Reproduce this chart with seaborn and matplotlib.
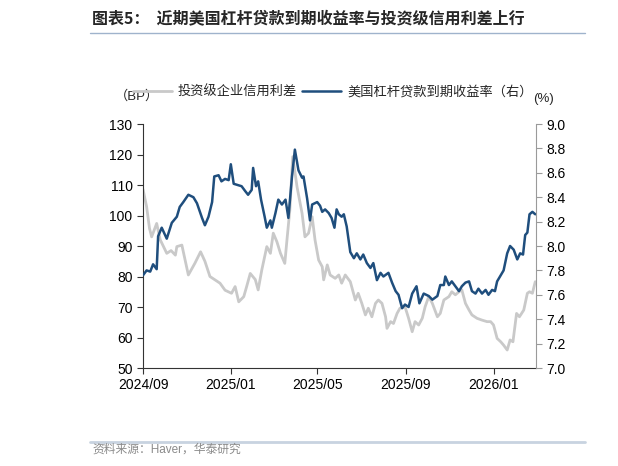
import pandas as pd
import numpy as np
import matplotlib
matplotlib.use("Agg")
import matplotlib.pyplot as plt
from matplotlib.lines import Line2D
import seaborn as sns

# 投资级企业信用利差 (BP, left axis)
ig_dates = [
    "2024-09-01", "2024-09-06", "2024-09-10", "2024-09-13", "2024-09-20", "2024-09-25",
    "2024-10-04", "2024-10-10", "2024-10-16", "2024-10-18", "2024-10-25", "2024-11-03",
    "2024-11-12", "2024-11-20", "2024-11-26", "2024-12-03", "2024-12-17", "2024-12-24",
    "2025-01-02", "2025-01-07", "2025-01-12", "2025-01-19", "2025-01-23", "2025-01-28",
    "2025-02-04", "2025-02-08", "2025-02-13", "2025-02-20", "2025-02-25", "2025-03-01",
    "2025-03-06", "2025-03-11", "2025-03-17", "2025-03-20", "2025-03-24", "2025-03-28",
    "2025-04-03", "2025-04-10", "2025-04-14", "2025-04-19", "2025-04-24", "2025-04-28",
    "2025-05-03", "2025-05-08", "2025-05-10", "2025-05-15", "2025-05-19", "2025-05-26",
    "2025-05-31", "2025-06-04", "2025-06-09", "2025-06-16", "2025-06-23", "2025-06-27",
    "2025-07-02", "2025-07-07", "2025-07-11", "2025-07-16", "2025-07-21", "2025-07-25",
    "2025-07-30", "2025-08-04", "2025-08-06", "2025-08-11", "2025-08-15", "2025-08-20",
    "2025-08-24", "2025-08-31", "2025-09-05", "2025-09-10", "2025-09-14", "2025-09-19",
    "2025-09-24", "2025-09-28", "2025-10-03", "2025-10-08", "2025-10-15", "2025-10-19",
    "2025-10-24", "2025-10-31", "2025-11-04", "2025-11-09", "2025-11-14", "2025-11-18",
    "2025-11-23", "2025-11-28", "2025-12-02", "2025-12-09", "2025-12-16", "2025-12-23",
    "2025-12-28", "2026-01-01", "2026-01-06", "2026-01-11", "2026-01-15", "2026-01-20",
    "2026-01-24", "2026-01-28", "2026-02-02", "2026-02-06", "2026-02-12", "2026-02-17",
    "2026-02-20", "2026-02-24", "2026-02-28",
]
ig_spread = [
    108.6, 102.9, 95.8, 93.0, 97.4, 92.0,
    87.6, 88.5, 87.0, 89.8, 90.3, 80.5,
    84.3, 88.1, 85.0, 80.0, 77.8, 75.5,
    74.5, 76.7, 71.7, 73.4, 76.7, 81.0,
    79.0, 75.6, 82.1, 89.8, 87.6, 94.2,
    91.4, 87.6, 84.3, 92.0, 101.8, 119.3,
    109.4, 100.7, 93.0, 94.2, 99.6, 92.0,
    85.4, 83.2, 78.9, 83.8, 80.5, 79.4,
    80.5, 77.8, 80.5, 78.3, 72.3, 74.5,
    71.2, 67.4, 69.6, 66.8, 71.2, 72.3,
    71.2, 66.8, 63.0, 65.2, 64.6, 67.9,
    69.6, 70.1, 66.3, 61.9, 65.2, 64.1,
    66.3, 70.1, 73.4, 71.2, 66.8, 67.9,
    72.3, 73.4, 75.0, 74.0, 75.0, 75.6,
    71.2, 69.0, 67.4, 66.3, 65.7, 65.2,
    65.2, 64.1, 59.7, 58.6, 57.5, 55.9,
    59.2, 58.6, 67.9, 66.8, 69.0, 74.5,
    75.0, 74.5, 78.3,
]

# 美国杠杆贷款到期收益率 (%, right axis)
ll_dates = [
    "2024-09-01", "2024-09-06", "2024-09-11", "2024-09-15", "2024-09-20", "2024-09-22",
    "2024-09-27", "2024-10-04", "2024-10-11", "2024-10-18", "2024-10-22", "2024-10-27",
    "2024-11-03", "2024-11-10", "2024-11-15", "2024-11-22", "2024-11-26", "2024-12-01",
    "2024-12-06", "2024-12-09", "2024-12-15", "2024-12-19", "2024-12-24", "2024-12-29",
    "2025-01-01", "2025-01-05", "2025-01-16", "2025-01-21", "2025-01-25", "2025-01-30",
    "2025-02-01", "2025-02-05", "2025-02-08", "2025-02-12", "2025-02-17", "2025-02-20",
    "2025-02-25", "2025-02-27", "2025-03-04", "2025-03-08", "2025-03-13", "2025-03-18",
    "2025-03-22", "2025-03-27", "2025-03-31", "2025-04-05", "2025-04-10", "2025-04-12",
    "2025-04-17", "2025-04-21", "2025-04-24", "2025-05-01", "2025-05-05", "2025-05-08",
    "2025-05-12", "2025-05-17", "2025-05-21", "2025-05-25", "2025-05-28", "2025-05-31",
    "2025-06-04", "2025-06-07", "2025-06-11", "2025-06-16", "2025-06-21", "2025-06-25",
    "2025-06-30", "2025-07-04", "2025-07-09", "2025-07-14", "2025-07-18", "2025-07-23",
    "2025-07-28", "2025-08-01", "2025-08-08", "2025-08-13", "2025-08-18", "2025-08-22",
    "2025-08-27", "2025-08-31", "2025-09-05", "2025-09-10", "2025-09-16", "2025-09-20",
    "2025-09-26", "2025-10-03", "2025-10-08", "2025-10-15", "2025-10-19", "2025-10-24",
    "2025-10-26", "2025-10-31", "2025-11-04", "2025-11-09", "2025-11-14", "2025-11-18",
    "2025-11-23", "2025-11-28", "2025-12-02", "2025-12-07", "2025-12-11", "2025-12-16",
    "2025-12-21", "2025-12-25", "2025-12-30", "2026-01-03", "2026-01-06", "2026-01-11",
    "2026-01-15", "2026-01-20", "2026-01-24", "2026-01-29", "2026-02-03", "2026-02-07",
    "2026-02-11", "2026-02-14", "2026-02-17", "2026-02-20", "2026-02-24", "2026-02-28",
]
ll_yield = [
    7.76, 7.80, 7.79, 7.85, 7.81, 8.08,
    8.15, 8.06, 8.19, 8.24, 8.32, 8.36,
    8.42, 8.40, 8.35, 8.23, 8.17, 8.24,
    8.36, 8.57, 8.58, 8.53, 8.55, 8.54,
    8.67, 8.51, 8.49, 8.45, 8.42, 8.46,
    8.64, 8.49, 8.53, 8.38, 8.24, 8.15,
    8.21, 8.15, 8.27, 8.38, 8.34, 8.38,
    8.23, 8.57, 8.79, 8.62, 8.56, 8.57,
    8.39, 8.21, 8.34, 8.36, 8.33, 8.28,
    8.30, 8.27, 8.23, 8.15, 8.30, 8.26,
    8.24, 8.26, 8.16, 7.95, 7.90, 7.94,
    7.89, 7.93, 7.86, 7.82, 7.86, 7.72,
    7.78, 7.75, 7.78, 7.70, 7.63, 7.60,
    7.49, 7.52, 7.50, 7.61, 7.67, 7.53,
    7.61, 7.59, 7.56, 7.59, 7.68, 7.68,
    7.75, 7.68, 7.71, 7.67, 7.63, 7.67,
    7.70, 7.71, 7.63, 7.61, 7.65, 7.61,
    7.64, 7.60, 7.64, 7.63, 7.71, 7.76,
    7.80, 7.94, 8.00, 7.97, 7.89, 7.94,
    7.93, 8.09, 8.11, 8.26, 8.28, 8.26,
]

xtick_labels = ["2024/09", "2025/01", "2025/05", "2025/09", "2026/01"]
title = "图表5：  近期美国杠杆贷款到期收益率与投资级信用利差上行"
ig_label = "投资级企业信用利差"
ll_label = "美国杠杆贷款到期收益率（右）"
source = "资料来源：Haver，华泰研究"

ig = pd.DataFrame({"date": pd.to_datetime(ig_dates), "value": ig_spread})
ll = pd.DataFrame({"date": pd.to_datetime(ll_dates), "value": ll_yield})

sns.set_style("ticks")
plt.rcParams["font.family"] = ["Liberation Sans", "Noto Sans CJK SC", "DejaVu Sans"]

gray = "#c9c9c9"
blue = "#1f4e7d"

fig = plt.figure(figsize=(6.18, 4.66), dpi=100)
ax = fig.add_axes([0.2314, 0.2103, 0.6359, 0.5236])
ax2 = ax.twinx()

sns.lineplot(data=ig, x="date", y="value", ax=ax, color=gray, linewidth=2.0)
sns.lineplot(data=ll, x="date", y="value", ax=ax2, color=blue, linewidth=1.8)

ax.set_xlim(pd.Timestamp("2024-09-01"), pd.Timestamp("2026-03-01"))
ax.set_ylim(50, 130)
ax.set_yticks(np.arange(50, 131, 10))
ax2.set_ylim(7.0, 9.0)
ax2.set_yticks(np.arange(7.0, 9.01, 0.2))
ax2.set_yticklabels([f"{v:.1f}" for v in np.arange(7.0, 9.01, 0.2)])

ticks = pd.to_datetime([s.replace("/", "-") + "-01" for s in xtick_labels])
ax.set_xticks(ticks)
ax.set_xticklabels(xtick_labels)

for a in (ax, ax2):
    a.set_xlabel("")
    a.set_ylabel("")
    a.spines["top"].set_visible(False)
ax.spines["right"].set_visible(False)
ax2.spines["left"].set_visible(False)
ax2.spines["bottom"].set_visible(False)
ax.spines["left"].set_color("#333333")
ax.spines["bottom"].set_color("#333333")
ax2.spines["right"].set_color("#9a9a9a")
ax.tick_params(axis="both", labelsize=10, colors="#333333", labelcolor="black", length=4, width=0.8)
ax2.tick_params(axis="y", labelsize=10, colors="#9a9a9a", labelcolor="black", length=4, width=0.8)

# legend
handles = [Line2D([], [], color=gray, lw=2.0), Line2D([], [], color=blue, lw=1.8)]
fig.legend(handles, [ig_label, ll_label], loc="center left", bbox_to_anchor=(0.215, 0.803),
           ncol=2, frameon=False, fontsize=9.5, handlelength=2.95, handletextpad=0.45,
           columnspacing=0.4, borderpad=0, borderaxespad=0)

fig.text(0.186, 0.792, "（BP）", fontsize=9.5, ha="left", va="center")
fig.text(0.862, 0.788, "(%)", fontsize=9.5, ha="left", va="center")

# title, rules and source
fig.text(0.149, 0.961, title, fontsize=11.5, fontweight="bold", ha="left", va="center",
         family=["Noto Sans CJK SC", "DejaVu Sans"])
fig.add_artist(Line2D([0.146, 0.947], [0.929, 0.929], color="#9fb3cc", lw=1.0))
fig.add_artist(Line2D([0.146, 0.947], [0.051, 0.051], color="#c8d3e0", lw=2.0))
fig.text(0.149, 0.036, source, fontsize=8.5, color="#8a8a8a", ha="left", va="center")

fig.savefig("out.png", dpi=100)
